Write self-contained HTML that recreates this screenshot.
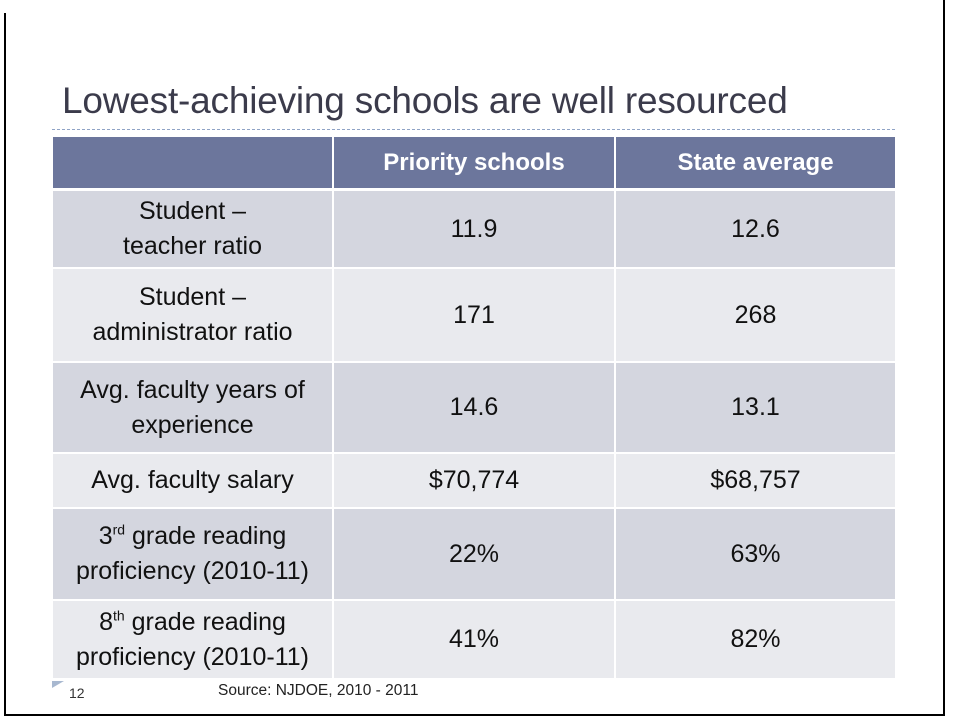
<!DOCTYPE html>
<html><head><style>
body{margin:0;width:960px;height:720px;background:#fff;position:relative;overflow:hidden;font-family:"Liberation Sans",sans-serif;}
.a{position:absolute;}
.c{position:absolute;display:flex;align-items:center;justify-content:center;text-align:center;color:#111;font-size:25px;line-height:35px;}
.h{background:#6c769c;color:#fff;font-weight:bold;font-size:24px;}
.d{background:#d4d6df;}
.l{background:#e9eaee;}
sup{font-size:14px;line-height:0;}
</style></head><body>
<div class="a" style="left:4px;top:13px;width:2px;height:703px;background:#000"></div>
<div class="a" style="left:943px;top:0;width:2px;height:716px;background:#000"></div>
<div class="a" style="left:4px;top:714px;width:941px;height:2px;background:#000"></div>
<div class="a" style="left:62px;top:80px;font-size:37px;color:#3b3b4b;white-space:nowrap;letter-spacing:-0.2px">Lowest-achieving schools are well resourced</div>
<div class="a" style="left:52px;top:129px;width:843px;border-top:1px dashed #8fa3c6"></div>

<div class="c h" style="left:53px;top:137px;width:279px;height:51px"></div>
<div class="c h" style="left:334px;top:137px;width:280px;height:51px">Priority schools</div>
<div class="c h" style="left:616px;top:137px;width:279px;height:51px">State average</div>

<div class="c d" style="left:53px;top:191px;width:279px;height:76px">Student –<br>teacher ratio</div>
<div class="c d" style="left:334px;top:191px;width:280px;height:76px">11.9</div>
<div class="c d" style="left:616px;top:191px;width:279px;height:76px">12.6</div>

<div class="c l" style="left:53px;top:269px;width:279px;height:92px">Student –<br>administrator ratio</div>
<div class="c l" style="left:334px;top:269px;width:280px;height:92px">171</div>
<div class="c l" style="left:616px;top:269px;width:279px;height:92px">268</div>

<div class="c d" style="left:53px;top:363px;width:279px;height:89px">Avg. faculty years of<br>experience</div>
<div class="c d" style="left:334px;top:363px;width:280px;height:89px">14.6</div>
<div class="c d" style="left:616px;top:363px;width:279px;height:89px">13.1</div>

<div class="c l" style="left:53px;top:454px;width:279px;height:53px">Avg. faculty salary</div>
<div class="c l" style="left:334px;top:454px;width:280px;height:53px">$70,774</div>
<div class="c l" style="left:616px;top:454px;width:279px;height:53px">$68,757</div>

<div class="c d" style="left:53px;top:509px;width:279px;height:90px"><span>3<sup>rd</sup> grade reading<br>proficiency (2010-11)</span></div>
<div class="c d" style="left:334px;top:509px;width:280px;height:90px">22%</div>
<div class="c d" style="left:616px;top:509px;width:279px;height:90px">63%</div>

<div class="c l" style="left:53px;top:601px;width:279px;height:77px"><span>8<sup>th</sup> grade reading<br>proficiency (2010-11)</span></div>
<div class="c l" style="left:334px;top:601px;width:280px;height:77px">41%</div>
<div class="c l" style="left:616px;top:601px;width:279px;height:77px">82%</div>

<div class="a" style="left:52px;top:681px;width:0;height:0;border-top:7px solid #a8b8d0;border-right:12px solid transparent"></div>
<div class="a" style="left:69px;top:685px;font-size:14px;color:#333">12</div>
<div class="a" style="left:218px;top:682px;font-size:15.5px;color:#222">Source: NJDOE, 2010 - 2011</div>
</body></html>
